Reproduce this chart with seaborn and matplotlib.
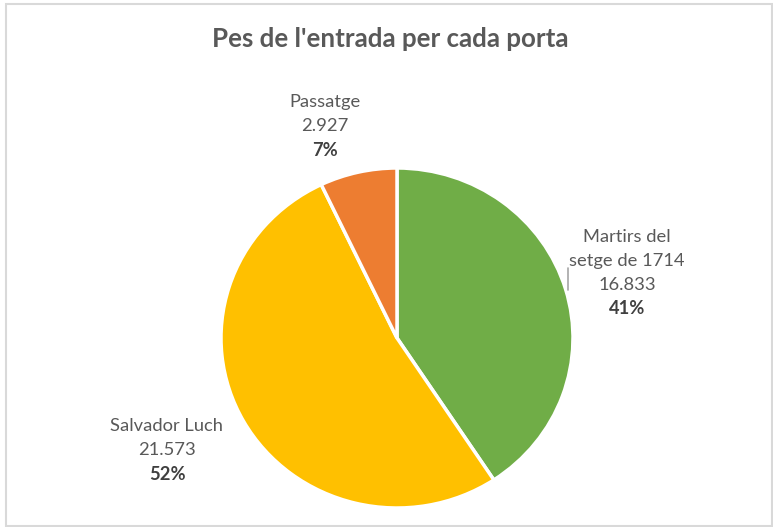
import numpy as np
import matplotlib
matplotlib.use("Agg")
from matplotlib import pyplot as plt
from matplotlib.patches import Rectangle
import seaborn as sns

# dades del grafic
portes = ["Martirs del\nsetge de 1714", "Salvador Luch", "Passatge"]
entrades = [16833, 21573, 2927]
colors = ["#70AD47", "#FFC000", "#ED7D31"]
title = "Pes de l'entrada per cada porta"

sns.set_theme(style="white")
plt.rcParams['font.family'] = ['Lato', 'DejaVu Sans']

W, H = 773, 527
fig = plt.figure(figsize=(W / 100, H / 100), dpi=100)
fig.patch.set_facecolor("white")


def px(x, y):
    # pixel (des de dalt) -> fraccio de figura
    return x / W, 1 - y / H


# pastis, una mica mes ample que alt com a l'original
cx, cy, rx, ry = 397, 338, 176, 170
ax = fig.add_axes([0, 0, 1, 1])
wedges, _ = ax.pie(entrades, colors=colors, startangle=90, counterclock=False,
                   wedgeprops=dict(edgecolor="white", linewidth=2.5))
ax.set_aspect("auto")
ax.set_xlim(-cx / rx, (W - cx) / rx)
ax.set_ylim(-(H - cy) / ry, cy / ry)
ax.axis("off")

total = sum(entrades)


def fmt(v):
    return f"{v:,}".replace(",", ".")


# etiquetes: nom, valor, percentatge en negreta
label_pos = [(627, 237), (167, 426), (325, 102)]
line_h = 24
for name, val, (lx, ly) in zip(portes, entrades, label_pos):
    lines = name.split("\n") + [fmt(val)]
    for i, t in enumerate(lines):
        fig.text(*px(lx, ly + i * line_h), t, ha="center", va="center",
                 fontsize=13.2, color="#595959")
    pct = f"{round(val / total * 100)}%"
    fig.text(*px(lx, ly + len(lines) * line_h), pct, ha="center", va="center",
             fontsize=13.2, color="#404040", fontweight="bold")

# linia guia petita de Martirs
fig.add_artist(plt.Line2D([568 / W, 568 / W], [1 - 268 / H, 1 - 290 / H],
                          color="#A6A6A6", lw=1.2))

fig.text(*px(390, 39), title, ha="center", va="center", fontsize=18.6,
         fontweight="bold", color="#595959")

# vora del grafic
fig.add_artist(Rectangle((6 / W, 1 - 526 / H), 766 / W, 522 / H, transform=fig.transFigure,
                         fill=False, edgecolor="#D9D9D9", lw=1.5))

fig.savefig("out.png", dpi=100, facecolor="white")
